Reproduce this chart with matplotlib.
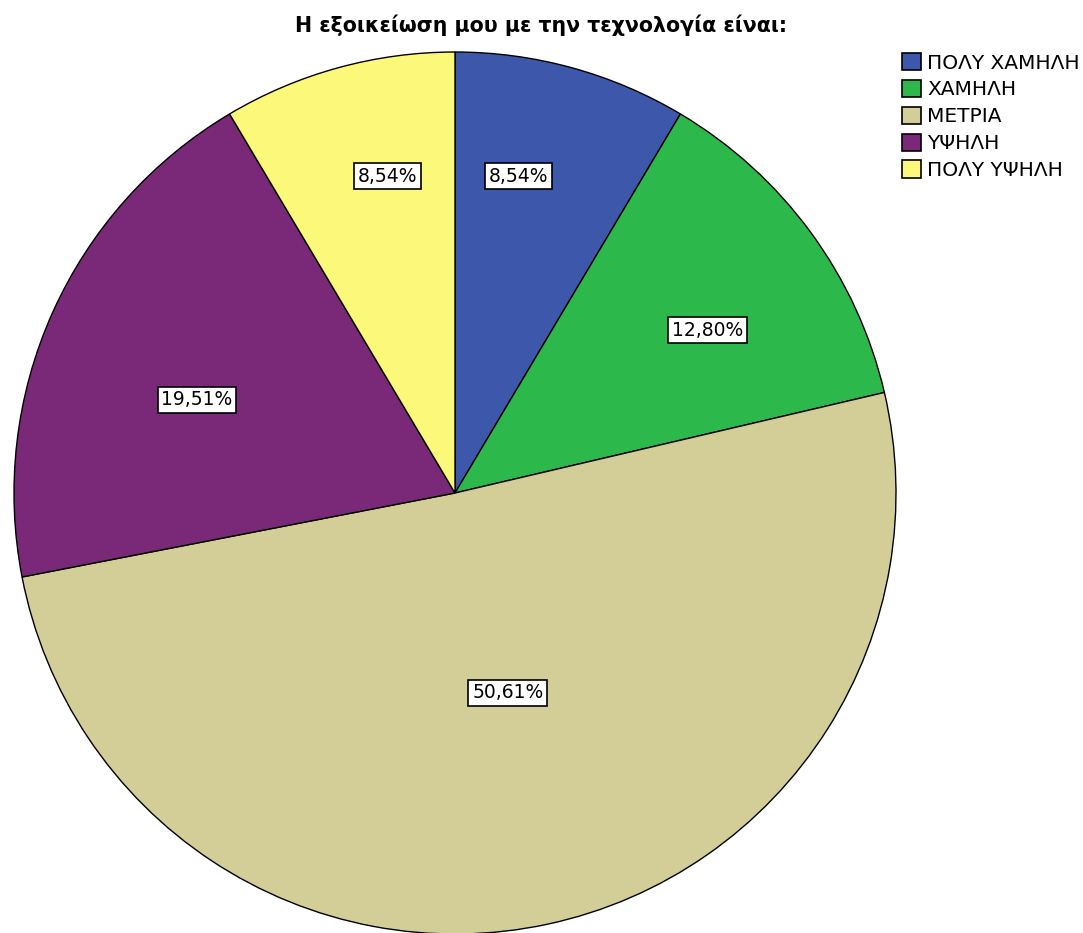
import numpy as np
import matplotlib.pyplot as plt
from matplotlib.patches import Patch

categories = ['ΠΟΛΥ ΧΑΜΗΛΗ', 'ΧΑΜΗΛΗ', 'ΜΕΤΡΙΑ', 'ΥΨΗΛΗ', 'ΠΟΛΥ ΥΨΗΛΗ']
percentages = [8.54, 12.80, 50.61, 19.51, 8.54]
colors = ['#3D57AA', '#2DB84B', '#D3CE97', '#7A2878', '#FBF87A']

# where each percentage box sits: fraction of radius, and nudge from the slice mid-angle
label_radius = [0.733, 0.682, 0.469, 0.622, 0.735]
label_shift = [4.0, -3.4, 2.7, 4.3, -3.3]

W, H = 1083, 933
fig = plt.figure(figsize=(W / 100, H / 100), dpi=100)

cx, cy, r = 455, 493, 441
ax = fig.add_axes([(cx - r) / W, (H - cy - r) / H, 2 * r / W, 2 * r / H])
wedges, _ = ax.pie(percentages, colors=colors, startangle=90, counterclock=False,
                   radius=1.0, wedgeprops=dict(edgecolor='black', linewidth=1.0))
ax.set_xlim(-1, 1)
ax.set_ylim(-1, 1)
ax.axis('off')

for w, p, d, s in zip(wedges, percentages, label_radius, label_shift):
    ang = np.deg2rad((w.theta1 + w.theta2) / 2 + s)
    ax.text(d * np.cos(ang), d * np.sin(ang), f'{p:.2f}%'.replace('.', ','),
            ha='center', va='center', fontsize=13.5, family='DejaVu Sans',
            bbox=dict(boxstyle='square,pad=0.2', facecolor='white',
                      edgecolor='black', linewidth=1.2))

fig.text(541 / W, 1 - 25 / H, 'Η εξοικείωση μου με την τεχνολογία είναι:',
         ha='center', va='center', fontsize=14.8, fontweight='bold')

handles = [Patch(facecolor=c, edgecolor='black', linewidth=1.2) for c in colors]
fig.legend(handles, categories, loc='upper left', bbox_to_anchor=(902 / W, 1 - 53 / H),
           frameon=False, prop={'family': 'DejaVu Sans', 'size': 14.5},
           handlelength=0.95, handleheight=0.95, handletextpad=0.3,
           labelspacing=0.36, borderaxespad=0, borderpad=0)

fig.savefig('out.png', dpi=100)
